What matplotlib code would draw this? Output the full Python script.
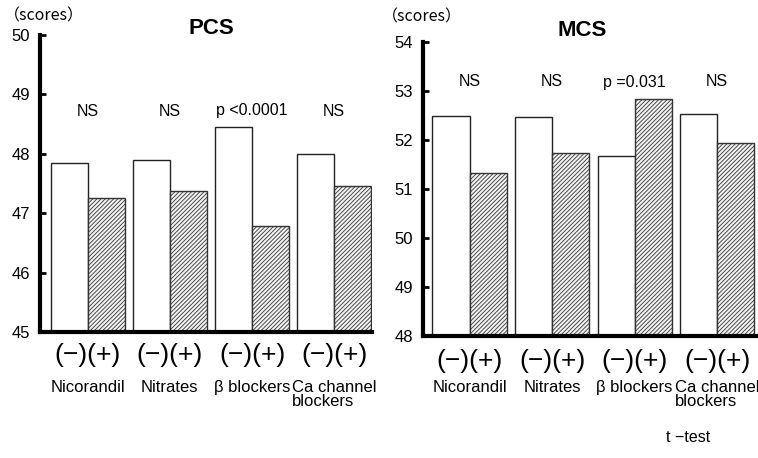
import matplotlib
matplotlib.use("Agg")
import matplotlib.pyplot as plt
import matplotlib.transforms as mtransforms
import numpy as np

categories = ["Nicorandil", "Nitrates", "β blockers", "Ca channel\nblockers"]
pcs_minus = [47.85, 47.89, 48.45, 48.00]
pcs_plus = [47.26, 47.38, 46.79, 47.45]
mcs_minus = [52.48, 52.46, 51.66, 52.52]
mcs_plus = [51.33, 51.73, 52.84, 51.93]
pcs_sig = ["NS", "NS", "p <0.0001", "NS"]
mcs_sig = ["NS", "NS", "p =0.031", "NS"]
pcs_ticks = [45, 46, 47, 48, 49, 50]
mcs_ticks = [48, 49, 50, 51, 52, 53, 54]

plt.rcParams['hatch.linewidth'] = 0.6
W, H = 758, 458
fig = plt.figure(figsize=(W / 100, H / 100), dpi=100)

def fx(px):
    return px / W

def fy(py):
    return 1 - py / H

def panel(x0, x1, ytop, ybot, minus, plus, sig, ticks, title, xlim, sig_y, pm_y, cat_y, title_x, scores_x, scores_y, title_y):
    ax = fig.add_axes([fx(x0), fy(ybot), fx(x1 - x0), (ybot - ytop) / H])
    x = np.arange(len(minus))
    w = 0.45
    base = ticks[0]
    ax.bar(x - w / 2, np.array(minus) - base, w, bottom=base, color="white",
           edgecolor="#222222", linewidth=1.0, zorder=2)
    ax.bar(x + w / 2, np.array(plus) - base, w, bottom=base, color="#f2f2f2",
           edgecolor="#333333", linewidth=1.0, hatch="////////", zorder=2)
    ax.set_ylim(ticks[0], ticks[-1])
    ax.set_xlim(*xlim)
    ax.set_yticks(ticks)
    ax.set_yticklabels([str(t) for t in ticks], fontsize=12, family="Liberation Sans")
    ax.tick_params(axis="y", direction="in", length=4, width=2, pad=7)
    ax.set_xticks([])
    for s in ["top", "right"]:
        ax.spines[s].set_visible(False)
    ax.spines["left"].set_linewidth(3)
    ax.spines["bottom"].set_linewidth(3)
    ax.spines["bottom"].set_zorder(3)
    tr = mtransforms.blended_transform_factory(ax.transData, fig.transFigure)
    for i in range(len(minus)):
        ax.text(i, fy(sig_y), sig[i], transform=tr, ha="center", va="center",
                fontsize=11.5, family="Liberation Sans", clip_on=False)
        ax.text(i, fy(pm_y), "(−)(+)", transform=tr, ha="center", va="center",
                fontsize=19, family="Liberation Sans", clip_on=False)
        ax.text(i, fy(cat_y), categories[i], transform=tr, ha="center", va="top",
                fontsize=12, family="Liberation Sans", linespacing=0.95,
                multialignment="left", clip_on=False)
    fig.text(fx(title_x), fy(title_y), title, ha="center", va="center", fontsize=16,
             fontweight="bold", family="Liberation Sans")
    fig.text(fx(scores_x), fy(scores_y), "（scores）", ha="left", va="center", fontsize=11.5,
             family=["Noto Sans CJK JP", "DejaVu Sans"])
    return ax

panel(40, 372, 35, 332, pcs_minus, pcs_plus, pcs_sig, pcs_ticks, "PCS",
      (-0.58, 3.46), 111, 355, 380, 211, 4, 16, 28)
panel(423, 756, 41.7, 335.7, mcs_minus, mcs_plus, mcs_sig, mcs_ticks, "MCS",
      (-0.564, 3.47), 82, 361, 380, 582, 382, 17, 30)

fig.text(fx(688), fy(437), "t −test", ha="center", va="center", fontsize=11.5,
         family="Liberation Sans")

fig.savefig("out.png", dpi=100)
